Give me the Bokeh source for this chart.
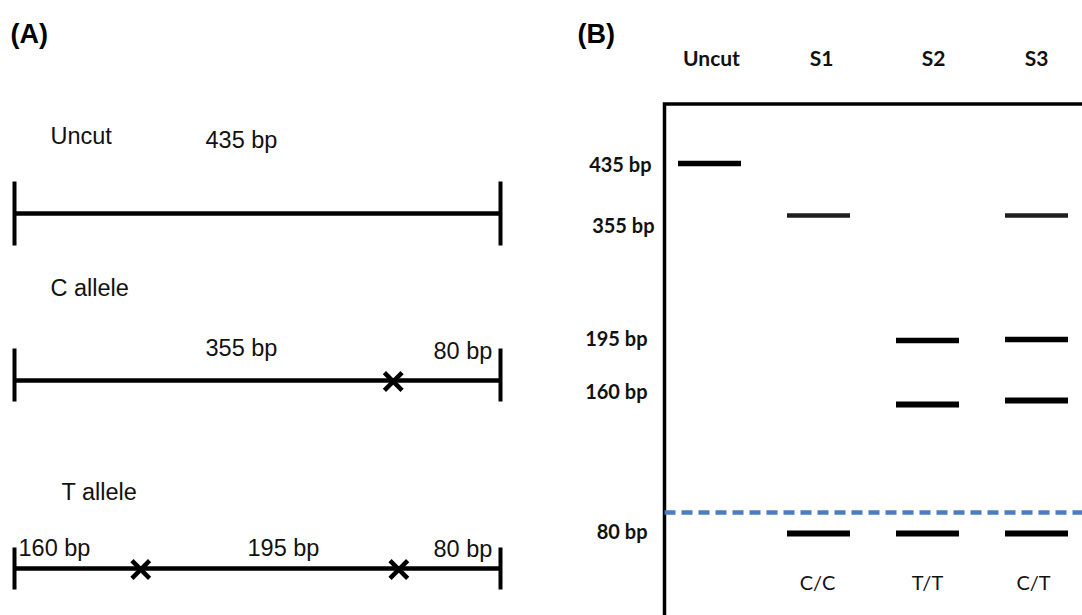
from bokeh.plotting import figure
from bokeh.models import Range1d
from bokeh.layouts import row
from bokeh.core.properties import value
from bokeh.embed import file_html
from bokeh.resources import INLINE

# ---------------- data: panel A (restriction map of the amplicon) ----------------
amplicon_bp = 435
allele_names = ["Uncut", "C allele", "T allele"]
fragment_labels = [["435 bp"], ["355 bp", "80 bp"], ["160 bp", "195 bp", "80 bp"]]
# cut marks as drawn in the picture (bp along the amplicon, schematic)
cut_sites_bp = [[], [339], [113, 344]]

# ---------------- data: panel B (gel) ----------------
lanes = ["Uncut", "S1", "S2", "S3"]
genotypes = ["C/C", "T/T", "C/T"]          # for lanes S1, S2, S3
marker_labels = ["435 bp", "355 bp", "195 bp", "160 bp", "80 bp"]
band_lane = ["Uncut", "S1", "S1", "S2", "S2", "S2", "S3", "S3", "S3", "S3"]
band_size = [435, 355, 80, 195, 160, 80, 355, 195, 160, 80]
band_migration = [163, 215, 533, 340, 404, 533, 215, 339, 400, 533]   # distance down the gel
cutoff_migration = 512                                                # dashed line

# ---------------- styles / layout ----------------
FONT_A = "Liberation Sans, Arial, sans-serif"
FONT_B = "Lato, Liberation Sans, sans-serif"
BLUE = "#4a7dc0"

W, H = 1082, 615
SPLIT = 568
# panel A geometry
PX_PER_BP = 486 / 435
X0_PX = 14
def ax(px):
    return (px - X0_PX) / PX_PER_BP

row_y = [213, 380, 568]
tick_up = [32, 32, 21]
tick_dn = [32, 21, 21]
name_x = [ax(50), ax(50), ax(61)]
name_y = [135, 287, 491]
frag_x = [[ax(205)], [ax(205), ax(433)], [ax(18), ax(247), ax(433)]]
frag_y = [[139], [347, 350], [547, 547, 548]]

pA = figure(width=SPLIT, height=H, x_range=Range1d(ax(0), ax(SPLIT)), y_range=Range1d(H, 0),
            x_axis_type=None, y_axis_type=None, output_backend="svg", toolbar_location=None,
            min_border=0)
pA.grid.visible = False
pA.outline_line_color = None

pA.segment(x0=[0] * 3, x1=[amplicon_bp] * 3, y0=row_y, y1=row_y, line_width=4.5, line_color="black")
tx, ty0, ty1 = [], [], []
for y, u, d in zip(row_y, tick_up, tick_dn):
    for xv in (0, amplicon_bp):
        tx.append(xv); ty0.append(y - u); ty1.append(y + d)
pA.segment(x0=tx, x1=tx, y0=ty0, y1=ty1, line_width=4, line_color="black")

cx, cy = [], []
for y, cuts in zip(row_y, cut_sites_bp):
    for c in cuts:
        cx.append(c); cy.append(y + 1)
pA.scatter(x=cx, y=cy, marker="x", size=25, line_width=4.5, line_color="black")

pA.text(x=name_x, y=name_y, text=allele_names, text_font=value(FONT_A), text_font_size="23.5px",
        text_baseline="middle", text_align="left", text_color="#111")
fx, fy, ft = [], [], []
for xs, ys, ts in zip(frag_x, frag_y, fragment_labels):
    fx += xs; fy += ys; ft += ts
pA.text(x=fx, y=fy, text=ft, text_font=value(FONT_A), text_font_size="23.5px",
        text_baseline="middle", text_align="left", text_color="#111")
pA.text(x=[ax(10)], y=[33], text=["(A)"], text_font=value(FONT_A), text_font_style="bold",
        text_font_size="27px", text_baseline="middle", text_align="left", text_color="black")

# panel B geometry
LANE0_PX = 709
LANE_STEP_PX = 109
def bx(px):
    return (px - LANE0_PX) / LANE_STEP_PX

lane_idx = {name: i for i, name in enumerate(lanes)}
band_w = {435: 5.5, 355: 4.5, 195: 5.5, 160: 6, 80: 6}
band_c = {435: "black", 355: "#1e1e1e", 195: "black", 160: "black", 80: "black"}
HALF = 31.5 / LANE_STEP_PX

pB = figure(width=W - SPLIT, height=H, x_range=Range1d(bx(SPLIT), bx(W)), y_range=Range1d(H, 0),
            x_axis_type=None, y_axis_type=None, output_backend="svg", toolbar_location=None,
            min_border=0)
pB.grid.visible = False
pB.outline_line_color = None

gel_left = bx(664)
pB.line(x=[gel_left, gel_left, bx(W + 20)], y=[H + 20, 103.5, 103.5], line_width=3.5,
        line_color="black", line_join="miter")
pB.segment(x0=[gel_left], x1=[bx(W + 20)], y0=[cutoff_migration], y1=[cutoff_migration],
           line_width=4.5, line_color=BLUE, line_dash="11 6")

bxs = [lane_idx[l] for l in band_lane]
pB.segment(x0=[v - HALF for v in bxs], x1=[v + HALF for v in bxs], y0=band_migration,
           y1=band_migration, line_width=[band_w[s] for s in band_size],
           line_color=[band_c[s] for s in band_size])

lane_dx = [2, 3, 6, 0]
pB.text(x=[i + d / LANE_STEP_PX for i, d in enumerate(lane_dx)], y=[57] * 4, text=lanes,
        text_font=value(FONT_B), text_font_style="bold", text_font_size="21px",
        text_baseline="middle", text_align="center", text_color="#111")
geno_dx = [-1, 0, -3]
pB.text(x=[i + 1 + d / LANE_STEP_PX for i, d in enumerate(geno_dx)], y=[581] * 3, text=genotypes,
        text_font=value(FONT_B), text_font_size="20px",
        text_baseline="middle", text_align="center", text_color="#111")
pB.text(x=[bx(651), bx(654), bx(647), bx(647), bx(647)], y=[163, 224, 337, 390, 530],
        text=marker_labels, text_font=value(FONT_B), text_font_style="bold",
        text_font_size="20px", text_baseline="middle", text_align="right", text_color="#111")
pB.text(x=[bx(577)], y=[33], text=["(B)"], text_font=value(FONT_A), text_font_style="bold",
        text_font_size="27px", text_baseline="middle", text_align="left", text_color="black")

layout = row(pA, pB)
open("out.html", "w").write(file_html(layout, INLINE))
